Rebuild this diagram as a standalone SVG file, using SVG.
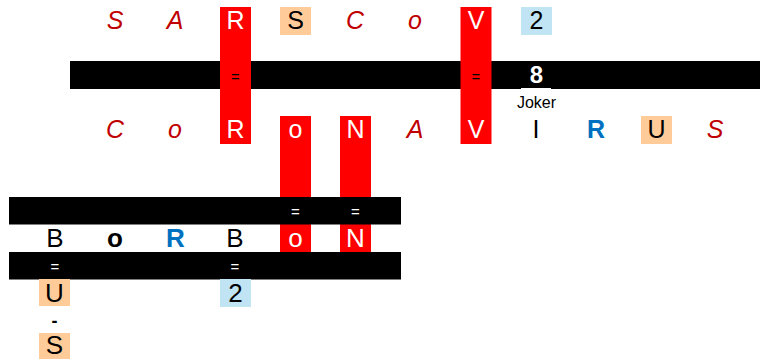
<svg xmlns="http://www.w3.org/2000/svg" width="760" height="359" viewBox="0 0 760 359">
<style>
text{font-family:"Liberation Sans",Arial,sans-serif;text-anchor:middle}
.it{font-style:italic;fill:#C00000;font-size:25px}
.pl{fill:#000;font-size:25px}
.wt{fill:#fff;font-size:25px}
.big{font-size:26px}
.bl{fill:#0070C0;font-weight:bold}
.bd{font-weight:bold}
.eq{font-size:15px}
.bar{fill:#000}
.red{fill:#FF0000}
.org{fill:#FFCC99}
.blu{fill:#C0E4F4}
</style>
<rect width="760" height="359" fill="#fff"/>
<g id="connectors">
<rect class="bar" x="70" y="61" width="690" height="28"/>
</g>
<g id="top-row">
<g id="t-S"><text class="it" x="115" y="29.3">S</text></g>
<g id="t-A"><text class="it" x="175" y="29.3">A</text></g>
<g id="col-R"><rect class="red" x="220" y="7" width="31" height="137"/><text class="wt" x="235.5" y="29.3">R</text><text class="eq" x="235.5" y="81.5">=</text><text class="wt" x="235.5" y="137.5">R</text></g>
<g id="t-S2"><rect class="org" x="280" y="7" width="31" height="28"/><text class="pl" x="295.5" y="29.3">S</text></g>
<g id="t-C"><text class="it" x="355" y="29.3">C</text></g>
<g id="t-o"><text class="it" x="415" y="29.3">o</text></g>
<g id="col-V"><rect class="red" x="460.5" y="7" width="31" height="137"/><text class="wt" x="476" y="29.3">V</text><text class="eq" x="476" y="81.5">=</text><text class="wt" x="476" y="137.5">V</text></g>
<g id="t-2"><rect class="blu" x="521" y="7" width="31" height="28"/><text class="pl" x="536.5" y="29.3">2</text></g>
<g id="joker"><text class="wt bd" style="font-size:24px" x="536.5" y="83.3">8</text><rect fill="#fff" x="521" y="88" width="30" height="2"/><text class="pl" style="font-size:16px" x="536.5" y="107.7">Joker</text></g>
</g>
<g id="mid-row">
<g id="m-C"><text class="it" x="115" y="137.5">C</text></g>
<g id="m-o"><text class="it" x="175" y="137.5">o</text></g>
<g id="col-o"><rect class="red" x="280" y="116" width="31" height="136"/><text class="wt" x="295.5" y="137.5">o</text></g>
<g id="col-N"><rect class="red" x="340" y="116" width="31" height="136"/><text class="wt" x="355.5" y="137.5">N</text></g>
<g id="m-A"><text class="it" x="415" y="137.5">A</text></g>
<g id="m-I"><text class="pl" x="536" y="137.5">I</text></g>
<g id="m-R"><text class="pl bl" x="596" y="137.5">R</text></g>
<g id="m-U"><rect class="org" x="641" y="116" width="31" height="28"/><text class="pl" x="656.5" y="137.5">U</text></g>
<g id="m-S"><text class="it" x="715" y="137.5">S</text></g>
</g>
<g id="lower">
<rect class="bar" x="9" y="197" width="392" height="27.5"/>
<rect class="bar" x="9" y="252" width="392" height="27.5"/>
<text class="wt eq" x="295.5" y="217">=</text>
<text class="wt eq" x="355.5" y="217">=</text>
<g id="l-B"><text class="pl big" x="55" y="247.3">B</text><text class="wt eq" x="55" y="271.5">=</text></g>
<g id="l-o"><text class="pl big bd" x="115" y="247.3">o</text></g>
<g id="l-R"><text class="big bl" x="175.5" y="247.3">R</text></g>
<g id="l-B2"><text class="pl big" x="235" y="247.3">B</text><text class="wt eq" x="235" y="271.5">=</text></g>
<g id="l-o2"><text class="wt big" x="295.5" y="247.3">o</text></g>
<g id="l-N"><text class="wt big" x="355.5" y="247.3">N</text></g>
<g id="l-U"><rect class="org" x="39" y="279" width="31" height="27"/><text class="pl big" x="54.5" y="301.7">U</text></g>
<g id="l-dash"><text class="pl bd" style="font-size:18px" x="54.5" y="326.5">-</text></g>
<g id="l-S"><rect class="org" x="39" y="333" width="31" height="26"/><text class="pl big" x="54.5" y="354.3">S</text></g>
<g id="l-2"><rect class="blu" x="220" y="279" width="31" height="28"/><text class="pl big" x="235.5" y="301.7">2</text></g>
</g>
</svg>
